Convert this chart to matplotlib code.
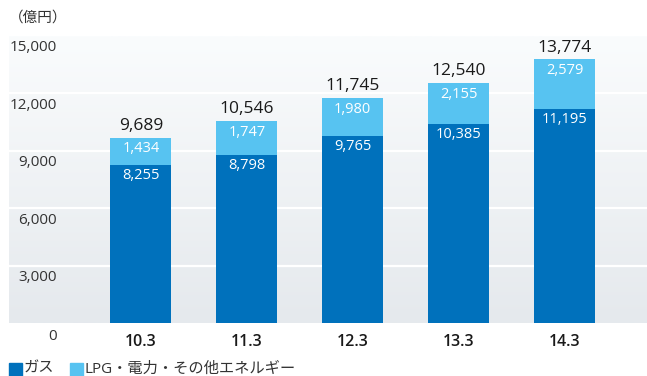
import numpy as np
import matplotlib
matplotlib.use("Agg")
import matplotlib.pyplot as plt
from matplotlib.colors import LinearSegmentedColormap

plt.rcParams['font.family'] = ['Open Sans', 'Noto Sans CJK JP', 'DejaVu Sans']

categories = ["10.3", "11.3", "12.3", "13.3", "14.3"]
gas = [8255, 8798, 9765, 10385, 11195]
other = [1434, 1747, 1980, 2155, 2579]
totals = [9689, 10546, 11745, 12540, 13774]
yticks = [0, 3000, 6000, 9000, 12000, 15000]
legend_labels = ["ガス", "LPG・電力・その他エネルギー"]
unit_label = "（億円）"

dark = "#0071BC"
light = "#57C3F1"

W, H = 647, 376
fig = plt.figure(figsize=(W / 100, H / 100), dpi=100)
left, right, top, bottom = 9, 647, 36, 323
ax = fig.add_axes([left / W, (H - bottom) / H, (right - left) / W, (bottom - top) / H])

xmin, xmax = -1.246, 4.779
ax.set_xlim(xmin, xmax)
ax.set_ylim(0, 15000)

# gradient background
grad = np.linspace(0, 1, 256).reshape(-1, 1)
cmap = LinearSegmentedColormap.from_list("bg", ["#E5E9ED", "#FAFCFD"])
ax.imshow(grad, aspect="auto", cmap=cmap, origin="lower",
          extent=(xmin, xmax, 0, 15000), zorder=0)

for yv in yticks[1:-1]:
    ax.axhline(yv, color="white", lw=1.6, zorder=1)

x = np.arange(len(categories))
bw = 0.576
ax.bar(x, gas, width=bw, color=dark, zorder=2)
ax.bar(x, other, width=bw, bottom=gas, color=light, zorder=2)

for i in range(len(categories)):
    ax.annotate(f"{gas[i]:,}", (x[i], gas[i]), xytext=(0, -7.5), textcoords="offset points",
                ha="center", va="center", color="white", fontsize=10.5, zorder=3)
    ax.annotate(f"{other[i]:,}", (x[i], totals[i]), xytext=(0, -8), textcoords="offset points",
                ha="center", va="center", color="white", fontsize=10.5, zorder=3)
    ax.annotate(f"{totals[i]:,}", (x[i], totals[i]), xytext=(0, 8.5), textcoords="offset points",
                ha="center", va="center", color="#1a1a1a", fontsize=12.5, zorder=3)
    ax.annotate(categories[i], (x[i], 0), xytext=(0, -14), textcoords="offset points",
                ha="center", va="center", color="#1a1a1a", fontsize=11.5, fontweight="semibold",
                annotation_clip=False)

# y labels inside plot, below gridlines
for yv in yticks:
    dy = -13 if yv == 0 else -12
    ax.annotate(f"{yv:,}", (0, yv), xycoords=("axes fraction", "data"), xytext=(57 - left, dy),
                textcoords="offset pixels", ha="right", va="center", color="#333333",
                fontsize=11, annotation_clip=False)

for s in ax.spines.values():
    s.set_visible(False)
ax.set_xticks([])
ax.set_yticks([])

fig.text(9 / W, 1 - 18 / H, unit_label, ha="left", va="center", color="#333333", fontsize=10.5)

# legend
ly = 1 - 369 / H
fig.patches.append(plt.Rectangle((9 / W, ly - 6.5 / H), 13 / W, 13 / H, color=dark,
                                 transform=fig.transFigure, figure=fig))
fig.text(24 / W, ly, legend_labels[0], ha="left", va="center", color="#333333", fontsize=11)
fig.patches.append(plt.Rectangle((70 / W, ly - 6.5 / H), 13 / W, 13 / H, color=light,
                                 transform=fig.transFigure, figure=fig))
fig.text(85 / W, ly, legend_labels[1], ha="left", va="center", color="#333333", fontsize=11)

fig.savefig("out.png", dpi=100)
